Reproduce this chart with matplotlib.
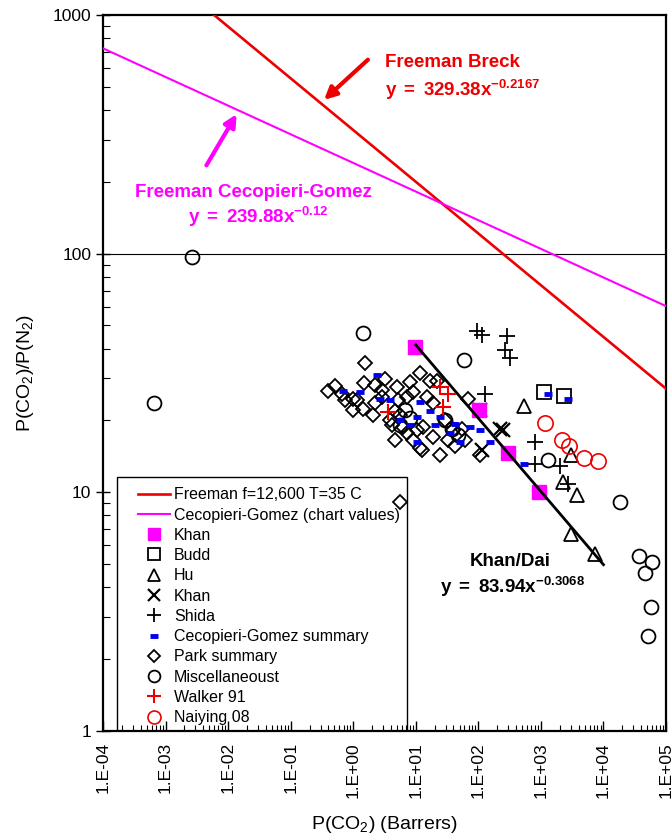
import numpy as np
import matplotlib
matplotlib.use('Agg')
import matplotlib.pyplot as plt
from matplotlib.patches import Rectangle
from matplotlib.ticker import FixedLocator, FuncFormatter, LogLocator, NullFormatter

plt.rcParams['font.family'] = ['Liberation Sans', 'DejaVu Sans']
plt.rcParams['mathtext.fontset'] = 'custom'
plt.rcParams['mathtext.rm'] = 'Liberation Sans'
plt.rcParams['mathtext.it'] = 'Liberation Sans'
plt.rcParams['mathtext.bf'] = 'Liberation Sans:bold'

# fitted power laws y = a * x^b
breck_a, breck_b = 329.38, -0.2167
ceco_a, ceco_b = 239.88, -0.12
dai_a, dai_b = 83.94, -0.3068

# data points (P(CO2) in Barrers, selectivity)
khan_sq_x = [9.7, 102, 298, 933]
khan_sq_y = [40.5, 22.2, 14.6, 10.0]

budd_x = [1120, 2340]
budd_y = [26.2, 25.2]

hu_x = [537, 3020, 2250, 3780, 3020, 7310]
hu_y = [22.9, 14.3, 11.0, 9.7, 6.7, 5.5]

khan_x_x = [248, 106, 222, 114]
khan_x_y = [18.2, 22.2, 18.4, 15.1]

shida_x = [95, 114, 287, 267, 321, 128, 805, 805, 2020, 2710]
shida_y = [47.2, 45.8, 45.0, 39.6, 36.7, 25.7, 16.2, 13.1, 12.9, 10.8]

ceco_sum_x = [2.42, 0.69, 3.9, 10.5, 10.5, 1.29, 17.0, 42.7, 74.1, 107, 155,
              51.3, 35.5, 20.5, 541, 11.8, 24.6, 2.70, 1310, 2740, 5.6, 8.15]
ceco_sum_y = [30.9, 26.5, 24.3, 20.6, 16.2, 26.2, 22.0, 19.4, 18.7, 18.2, 16.2,
              16.2, 17.8, 19.1, 13.2, 23.8, 20.6, 24.5, 25.9, 24.7, 20.0, 19.1]

park_x = [0.40, 0.52, 0.67, 1.56, 1.50, 1.0, 1.16, 1.0, 1.45, 2.09, 3.25, 2.91,
          2.91, 5.05, 8.15, 11.8, 7.3, 9.1, 3.9, 6.3, 7.3, 9.1, 11.8, 10.5,
          2.25, 5.2, 22.0, 15.2, 19.0, 68.9, 19.0, 39.7, 55.2, 42.7, 24.6, 107,
          12.7, 17.0, 13.2, 5.6, 4.7, 5.6, 4.2, 29.6, 33.0, 61.7, 2.25, 0.74, 4.7]
park_y = [26.5, 27.8, 25.9, 34.7, 28.6, 24.7, 24.3, 22.2, 22.4, 21.0, 29.7, 26.7,
          25.0, 27.5, 29.1, 31.5, 25.0, 26.2, 20.0, 18.7, 17.7, 16.5, 15.3, 18.2,
          23.6, 24.3, 29.4, 25.0, 23.6, 24.5, 17.0, 18.2, 18.5, 15.7, 14.3, 14.3,
          15.0, 29.4, 18.7, 9.1, 22.0, 21.0, 19.1, 20.0, 16.5, 16.5, 28.1, 24.3, 16.5]

misc_x = [6.5e-4, 2.65e-3, 1.43, 59, 1300, 18400, 37000, 59700, 46100, 57500,
          51500, 6.8, 8.15, 5.6, 29.6, 38.2, 47.7]
misc_y = [23.6, 97, 46.7, 36, 13.6, 9.1, 5.4, 5.1, 4.6, 3.3, 2.5,
          22.2, 20.4, 19.1, 20.0, 18.5, 17.3]

walker_x = [3.6, 24.4, 32.7, 27.2]
walker_y = [21.8, 27.5, 25.7, 22.7]

naiying_x = [1160, 2170, 2810, 4890, 8170]
naiying_y = [19.6, 16.5, 15.7, 13.9, 13.5]

xmin, xmax = 1e-4, 1e5
decades = list(range(-4, 6))

fig = plt.figure(figsize=(6.72, 8.35), dpi=100)
ax = fig.add_axes([0.1533, 0.1246, 0.8378, 0.8575])
ax.set_xscale('log')
ax.set_yscale('log')

# lines
xl = np.logspace(-4, 5, 200)
ax.plot(xl, breck_a * xl ** breck_b, color='#ee0000', lw=1.9,
        label='Freeman f=12,600 T=35 C', zorder=3)
ax.plot(xl, ceco_a * xl ** ceco_b, color='#ff00ff', lw=1.5,
        label='Cecopieri-Gomez (chart values)', zorder=3)
ax.axhline(100, color='black', lw=0.8, zorder=1)

# scatter series
ax.plot(khan_sq_x, khan_sq_y, 's', ms=9.5, color='#ff00ff', mec='#ff00ff',
        ls='none', label='Khan', zorder=4)
ax.plot(budd_x, budd_y, 's', ms=9.5, mfc='none', mec='black', mew=1.3,
        ls='none', label='Budd')
ax.plot(hu_x, hu_y, '^', ms=10, mfc='none', mec='black', mew=1.3,
        ls='none', label='Hu')
ax.plot(khan_x_x, khan_x_y, 'x', ms=10, color='black', mew=1.6,
        ls='none', label='Khan')
ax.plot(shida_x, shida_y, '+', ms=12, color='black', mew=1.3,
        ls='none', label='Shida')
ax.plot(ceco_sum_x, ceco_sum_y, '_', ms=6, color='#0000ee', mew=3.5,
        ls='none', label='Cecopieri-Gomez summary', zorder=5)
ax.plot(park_x, park_y, 'D', ms=7, mfc='none', mec='black', mew=1.3,
        ls='none', label='Park summary')
ax.plot(misc_x, misc_y, 'o', ms=10, mfc='none', mec='black', mew=1.3,
        ls='none', label='Miscellaneoust')
ax.plot(walker_x, walker_y, '+', ms=12, color='#ee0000', mew=1.5,
        ls='none', label='Walker 91', zorder=5)
ax.plot(naiying_x, naiying_y, 'o', ms=11, mfc='none', mec='#ee0000', mew=1.2,
        ls='none', label='Naiying 08')

# Khan/Dai fit
xd = np.array([10, 1e4])
ax.plot(xd, dai_a * xd ** dai_b, color='black', lw=2, zorder=4)

# annotations
ax.text(3.2, 630, 'Freeman Breck', color='#ee0000', fontsize=13.5,
        fontweight='bold', va='center', ha='left')
ax.text(3.2, 485, r'$\mathbf{y\ =\ 329.38x^{-0.2167}}$', color='#ee0000',
        fontsize=13.5, va='center', ha='left')
ax.annotate('', xy=(0.317, 433), xytext=(1.85, 661),
            arrowprops=dict(arrowstyle='-|>', color='#ee0000', lw=3,
                            mutation_scale=18))
ax.text(3.24e-4, 180, 'Freeman Cecopieri-Gomez', color='#ff00ff',
        fontsize=13.5, fontweight='bold', va='center', ha='left')
ax.text(0.030, 142, r'$\mathbf{y\ =\ 239.88x^{-0.12}}$', color='#ff00ff',
        fontsize=13.5, va='center', ha='center')
ax.annotate('', xy=(0.0144, 393), xytext=(4.27e-3, 229),
            arrowprops=dict(arrowstyle='-|>', color='#ff00ff', lw=3,
                            mutation_scale=18))
ax.text(73.5, 5.14, 'Khan/Dai', color='black', fontsize=13.5,
        fontweight='bold', va='center', ha='left')
ax.text(24.4, 4.0, r'$\mathbf{y\ =\ 83.94x^{-0.3068}}$', color='black',
        fontsize=13.5, va='center', ha='left')

# axes
ax.set_xlim(xmin, xmax)
ax.set_ylim(1, 1000)
ax.xaxis.set_major_locator(FixedLocator([10.0 ** d for d in decades]))
ax.xaxis.set_major_formatter(FuncFormatter(lambda v, p: '1.E%+03d' % round(np.log10(v))))
ax.xaxis.set_minor_locator(LogLocator(base=10, subs=np.arange(2, 10), numticks=20))
ax.xaxis.set_minor_formatter(NullFormatter())
ax.yaxis.set_major_locator(FixedLocator([1, 10, 100, 1000]))
ax.yaxis.set_major_formatter(FuncFormatter(lambda v, p: '%d' % v))
ax.yaxis.set_minor_locator(LogLocator(base=10, subs=np.arange(2, 10), numticks=10))
ax.yaxis.set_minor_formatter(NullFormatter())
ax.tick_params(axis='x', which='major', direction='in', length=7, width=1,
               labelsize=12.5, labelrotation=90, pad=8)
ax.tick_params(axis='x', which='minor', direction='in', length=4, width=0.8)
ax.tick_params(axis='y', which='major', direction='inout', length=10, width=1,
               labelsize=12.5)
ax.tick_params(axis='y', which='minor', direction='in', length=5, width=0.8)
for s in ax.spines.values():
    s.set_linewidth(1.6)

ax.set_xlabel('P(CO$_2$) (Barrers)', fontsize=14, labelpad=12)
ax.set_ylabel('P(CO$_2$)/P(N$_2$)', fontsize=14, labelpad=12)

# legend: box drawn separately so the entries sit inset like the original
box = Rectangle((0.025, 0.0), 0.515, 0.355, transform=ax.transAxes,
                facecolor='white', edgecolor='black', lw=1.0, zorder=1.5)
ax.add_patch(box)
handles, labels = ax.get_legend_handles_labels()
leg = ax.legend(handles, labels, loc='lower left', bbox_to_anchor=(0.062, 0.008),
                borderaxespad=0, borderpad=0, fontsize=11.5, labelspacing=0.33,
                handlelength=2.0, handletextpad=0.25, markerscale=0.85,
                frameon=False)
leg.set_zorder(7)

fig.savefig('out.png', dpi=100)
